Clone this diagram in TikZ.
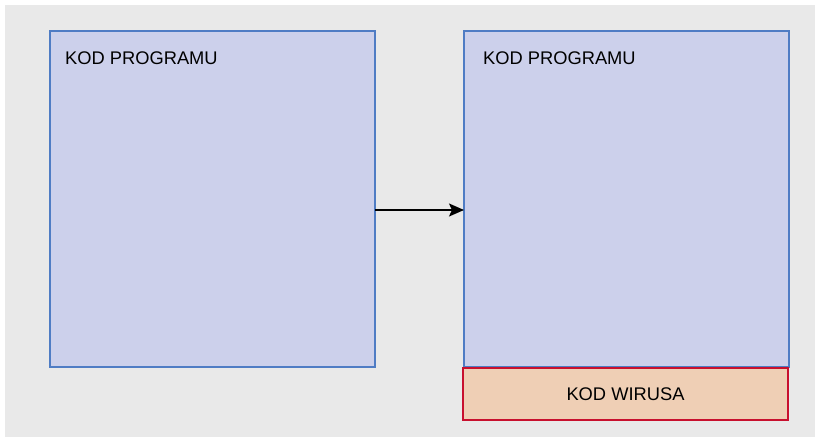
\documentclass[tikz,border=0pt]{standalone}
\usepackage{fontspec}
\setmainfont{Liberation Sans}
\usetikzlibrary{arrows.meta}
\definecolor{bgray}{HTML}{E9E9E9}
\definecolor{progfill}{HTML}{CCD0EB}
\definecolor{progline}{HTML}{4F7CC4}
\definecolor{virfill}{HTML}{EFCFB5}
\definecolor{virline}{HTML}{C8102E}
\tikzset{
  progbox/.style={draw=progline, fill=progfill, line width=1.3pt},
  virbox/.style={draw=virline, fill=virfill, line width=1.8pt},
  lbl/.style={font=\fontsize{18.3}{21}\selectfont, text=black, inner sep=0pt},
}
\begin{document}
\begin{tikzpicture}[x=1pt,y=-1pt]
  \useasboundingbox (0,0) rectangle (819,441);
  \fill[bgray] (5,5) rectangle (815,437);
  % original program
  \draw[progbox] (50,31) rectangle (375,367);
  \node[lbl, anchor=base west] (t1) at (65,65) {KOD PROGRAMU};
  \coordinate (p1e) at (375,210);
  % infected program
  \draw[progbox] (464,31) rectangle (789,367);
  \node[lbl, anchor=base west] (t2) at (483,65) {KOD PROGRAMU};
  \coordinate (p2w) at (464,210);
  % appended virus code
  \draw[virbox] (463,368) rectangle (788,420);
  \node[lbl] (v) at (625.5,394) {KOD WIRUSA};
  % transformation arrow
  \draw[line width=1.6pt, -{Stealth[length=15pt,width=13pt,inset=3pt]}] (p1e) -- (p2w);
\end{tikzpicture}
\end{document}
